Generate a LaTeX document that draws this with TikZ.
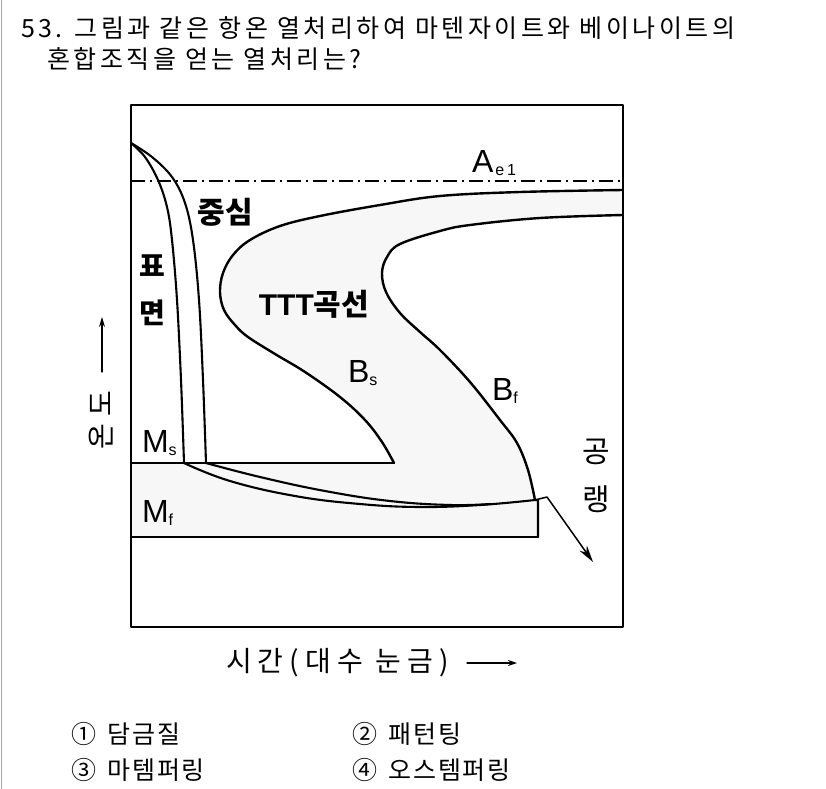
\documentclass[tikz,border=0pt]{standalone}
\usepackage{fontspec}
\setmainfont{Noto Sans CJK KR}
\newfontfamily\kr{Noto Sans CJK KR}
\newfontfamily\krq{Noto Sans CJK KR}[LetterSpace=14]
\newfontfamily\krw{Noto Sans CJK KR}[LetterSpace=22]
\newfontfamily\kro{Noto Sans CJK KR}[LetterSpace=6]
\newfontfamily\lat{Liberation Sans}
\usetikzlibrary{arrows.meta}
\newcommand{\mysub}[1]{\raisebox{-3bp}{\fontsize{16bp}{16bp}\selectfont #1}}
\begin{document}
\begin{tikzpicture}[x=1bp,y=-1bp,line cap=round,line join=round,
  curve/.style={line width=2.4bp,black},
  cool/.style={line width=2.1bp,black},
  lbl/.style={inner sep=0pt,outer sep=0pt},
  qtext/.style={lbl,anchor=west,font=\krq\fontsize{25bp}{28bp}\selectfont},
  otext/.style={lbl,anchor=west,font=\kro\fontsize{25bp}{28bp}\selectfont},
  latl/.style={lbl,anchor=base west,font=\lat\fontsize{32bp}{34bp}\selectfont},
  krb/.style={lbl,font=\kr\bfseries\fontsize{30bp}{32bp}\selectfont},
  krr/.style={lbl,font=\kr\fontsize{30bp}{32bp}\selectfont}]
\useasboundingbox (0,0) rectangle (826,789);
\fill[white] (0,0) rectangle (826,789);
\draw[gray!70,line width=1bp] (1,0) -- (1,789);

% question
\node[qtext] (q1) at (21,28) {53. 그림과 같은 항온 열처리하여 마텐자이트와 베이나이트의};
\node[qtext] (q2) at (47,59) {혼합조직을 얻는 열처리는?};

% shaded region
\fill[gray!6] plot[smooth,tension=0.6] coordinates {(623,190) (520,192) (440,196) (380,205) (320,216) (280,226) (250,240) (233,255) (223,273) (220,292) (224,310) (235,325) (248,337) (275,354) (305,372) (340,397) (365,420) (382,442) (394,463)}
  -- (131,463) -- (131,537) -- (538,537) -- (537,500)
  -- plot[smooth,tension=0.6] coordinates {(535,500) (528,470) (517,443) (500,420) (470,382) (440,350) (420,332) (400,313) (386,292) (382,273) (387,257) (400,244) (440,231) (470,225) (540,218) (623,215)} -- cycle;

% frame
\draw[line width=2bp] (131,105) rectangle (623,627);
% A_e1 line
\draw[line width=1.5bp,line cap=butt,dash pattern=on 14bp off 5bp on 2bp off 5bp] (131,181) -- (623,181);

% TTT curves
\draw[curve] plot[smooth,tension=0.6] coordinates {(623,190) (520,192) (440,196) (380,205) (320,216) (280,226) (250,240) (233,255) (223,273) (220,292) (224,310) (235,325) (248,337) (275,354) (305,372) (340,397) (365,420) (382,442) (394,463)};
\draw[curve] plot[smooth,tension=0.6] coordinates {(623,215) (540,218) (470,225) (440,231) (400,244) (387,257) (382,273) (386,292) (400,313) (420,332) (440,350) (470,382) (500,420) (517,443) (528,470) (535,500)} -- (538,500) -- (538,537);

% Ms, Mf lines
\draw[curve] (131,463) -- (394,463);
\draw[curve] (131,537) -- (538,537);

% cooling curves
\draw[cool] plot[smooth,tension=0.6] coordinates {(131,143) (145,157) (158,180) (167,207) (172,240) (177,300) (181,380) (184,463)};
\draw[cool] plot[smooth,tension=0.6] coordinates {(131,143) (152,157) (172,177) (185,203) (193,240) (199,300) (203,380) (206,463)};
\draw[cool] plot[smooth,tension=0.7] coordinates {(184,463) (230,481) (295,496) (360,504) (420,507) (480,505) (535,500)};
\draw[cool] plot[smooth,tension=0.7] coordinates {(206,463) (260,477) (325,491) (390,501) (450,505) (490,504)};
\draw[line width=1.5bp,-{Stealth[length=17bp,width=9bp]}] (535,500) -- (547,497) -- (593,562);

% labels
\node[latl] (ae1) at (472,172) {A\hspace{2bp}\mysub{e\hspace{3bp}1}};
\node[krb] (center) at (225,212) {중심};
\node[krb,font=\kr\bfseries\fontsize{28bp}{30bp}\selectfont] (s1) at (152,266) {표};
\node[krb,font=\kr\bfseries\fontsize{28bp}{30bp}\selectfont] (s2) at (152,313) {면};
\node[lbl,font=\kr\bfseries\fontsize{30bp}{32bp}\selectfont] (ttt) at (314,304) {{\lat TTT}곡선};
\node[latl] (bs) at (348,382) {B\mysub{s}};
\node[latl] (bf) at (492,400) {B\mysub{f}};
\node[latl] (ms) at (142,452) {M\mysub{s}};
\node[latl] (mf) at (142,522) {M\mysub{f}};
\node[krr] (k1) at (596,452) {공};
\node[krr] (k2) at (596,499) {랭};

% axes labels
\node[lbl,rotate=90,font=\kr\fontsize{28bp}{30bp}\selectfont\addfontfeature{LetterSpace=25}] (temp) at (101,420) {온도};
\coordinate (ya) at (102,372);
\coordinate (yb) at (102,317);
\draw[line width=1.2bp,-{Stealth[length=10bp,width=6bp]}] (ya) -- (yb);
\node[lbl,anchor=west,font=\krw\fontsize{28bp}{30bp}\selectfont] (xl) at (226,663) {시간(대수 눈금)};
\coordinate (xa) at (467,663);
\coordinate (xb) at (517,663);
\draw[line width=1.2bp,-{Stealth[length=9bp,width=6bp]}] (xa) -- (xb);

% options
\node[otext] (o1) at (71,734) {①\hspace{12bp}담금질};
\node[otext] (o2) at (352,734) {②\hspace{12bp}패턴팅};
\node[otext] (o3) at (71,770) {③\hspace{12bp}마템퍼링};
\node[otext] (o4) at (352,770) {④\hspace{12bp}오스템퍼링};
\end{tikzpicture}
\end{document}
